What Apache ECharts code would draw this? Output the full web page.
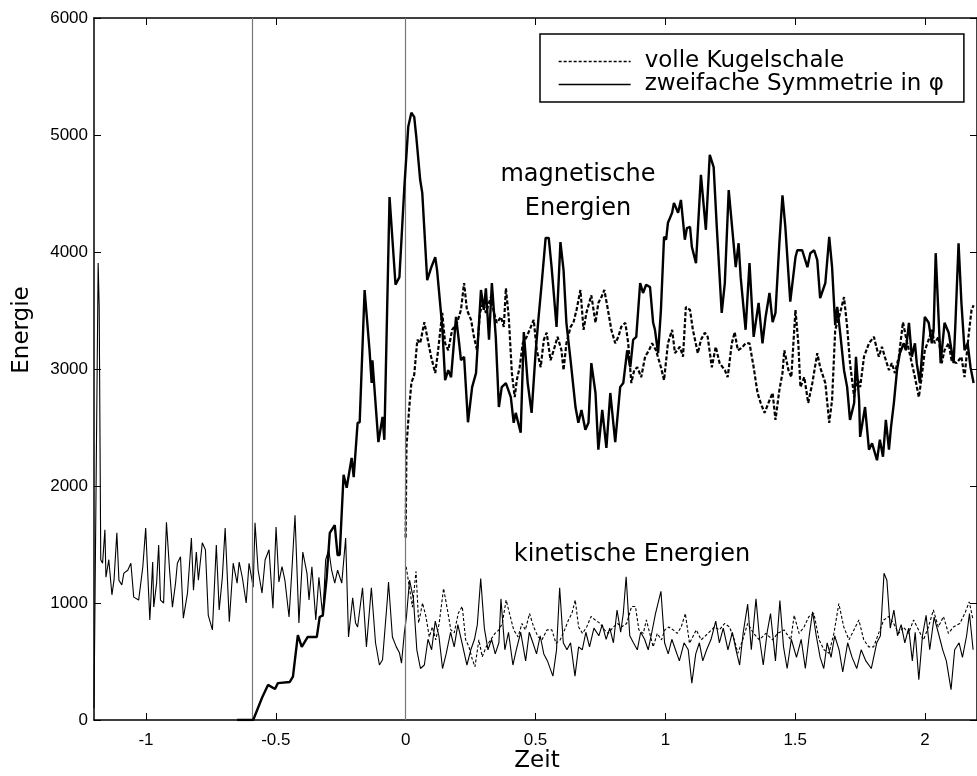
<!DOCTYPE html>
<html>
<head>
<meta charset="utf-8">
<title>Energie</title>
<script src="https://cdn.jsdelivr.net/npm/echarts@6/dist/echarts.min.js"></script>
<style>
  html, body { margin: 0; padding: 0; background: #fff; }
  #charts { width: 977px; height: 776px; }
</style>
</head>
<body>
<div id="charts"></div>
<script>
// Zeit-Achse: Ticks und Hilfslinien
var xTicks = [-1, -0.5, 0, 0.5, 1, 1.5, 2];
var vLines = [-0.587, 0];

// magnetische Energie, zweifache Symmetrie in phi  [Zeit, Energie]
var magZwei = [[-0.649,0],[-0.587,0],[-0.553,190],[-0.530,300],[-0.503,265],[-0.492,315],[-0.446,325],[-0.434,370],[-0.415,725],[-0.400,625],[-0.377,710],[-0.342,710],[-0.331,880],[-0.319,895],[-0.304,1220],[-0.292,1600],[-0.273,1665],[-0.262,1410],[-0.254,1410],[-0.239,2095],[-0.227,1985],[-0.208,2240],[-0.200,2075],[-0.185,2540],[-0.177,2545],[-0.158,3675],[-0.139,3160],[-0.131,2880],[-0.128,3075],[-0.105,2375],[-0.089,2590],[-0.082,2395],[-0.062,4470],[-0.039,3720],[-0.024,3785],[-0.005,4555],[0.010,5070],[0.022,5190],[0.033,5155],[0.041,4985],[0.056,4615],[0.064,4505],[0.083,3760],[0.098,3865],[0.114,3955],[0.121,3845],[0.141,3360],[0.152,2905],[0.164,2990],[0.175,2930],[0.194,3445],[0.206,3220],[0.213,3075],[0.225,3105],[0.240,2545],[0.256,2845],[0.271,2965],[0.290,3675],[0.301,3505],[0.309,3690],[0.321,3250],[0.332,3735],[0.347,3275],[0.359,2675],[0.370,2845],[0.386,2880],[0.405,2760],[0.416,2540],[0.424,2625],[0.443,2455],[0.455,3315],[0.470,2880],[0.485,2625],[0.501,3160],[0.512,3445],[0.524,3735],[0.539,4120],[0.551,4120],[0.562,3870],[0.581,3360],[0.596,4085],[0.608,3845],[0.619,3395],[0.635,3075],[0.654,2675],[0.665,2540],[0.677,2650],[0.692,2480],[0.704,2540],[0.715,3050],[0.731,2795],[0.742,2310],[0.757,2650],[0.773,2325],[0.788,2795],[0.807,2375],[0.826,2845],[0.838,2880],[0.853,3160],[0.865,3015],[0.876,3250],[0.888,3275],[0.903,3735],[0.914,3650],[0.926,3720],[0.941,3700],[0.953,3395],[0.960,3335],[0.972,3135],[0.983,3505],[0.995,4130],[1.003,4105],[1.010,4250],[1.026,4335],[1.033,4420],[1.049,4335],[1.060,4445],[1.075,4105],[1.083,4205],[1.095,4215],[1.102,4045],[1.118,3905],[1.137,4660],[1.156,4190],[1.171,4830],[1.186,4725],[1.198,4215],[1.217,3480],[1.229,3735],[1.244,4530],[1.252,4335],[1.271,3870],[1.282,4075],[1.290,3785],[1.309,3335],[1.324,3905],[1.340,3275],[1.359,3565],[1.374,3220],[1.386,3445],[1.401,3650],[1.413,3400],[1.424,3480],[1.439,4075],[1.451,4485],[1.462,4215],[1.481,3575],[1.501,3955],[1.508,4015],[1.527,4015],[1.547,3870],[1.558,3990],[1.573,4015],[1.585,3930],[1.596,3605],[1.616,3735],[1.631,4130],[1.642,3870],[1.654,3375],[1.662,3530],[1.673,3310],[1.688,2990],[1.700,2845],[1.711,2565],[1.727,2710],[1.734,3105],[1.746,2735],[1.750,2420],[1.769,2675],[1.784,2310],[1.796,2365],[1.815,2220],[1.826,2395],[1.838,2250],[1.849,2565],[1.861,2310],[1.869,2505],[1.880,2710],[1.892,2990],[1.903,3135],[1.918,3220],[1.926,3160],[1.938,3395],[1.949,3105],[1.961,3220],[1.968,3050],[1.980,2880],[1.999,3445],[2.014,3395],[2.026,3220],[2.033,3335],[2.041,3990],[2.052,3445],[2.060,3050],[2.075,3395],[2.091,3310],[2.110,3050],[2.117,3395],[2.129,4075],[2.140,3565],[2.152,3160],[2.164,3220],[2.175,3015],[2.187,2880]];

// magnetische Energie, volle Kugelschale
var magVoll = [[0.000,1560],[0.003,2335],[0.014,2675],[0.022,2880],[0.033,2950],[0.045,3250],[0.056,3220],[0.072,3400],[0.083,3275],[0.098,3105],[0.114,2965],[0.125,3160],[0.141,3480],[0.152,3220],[0.164,3160],[0.179,3335],[0.198,3395],[0.213,3505],[0.225,3735],[0.236,3505],[0.252,3420],[0.263,3275],[0.275,3160],[0.286,3480],[0.298,3565],[0.309,3480],[0.328,3615],[0.340,3480],[0.351,3395],[0.367,3445],[0.378,3360],[0.386,3690],[0.397,3445],[0.409,2965],[0.420,2760],[0.428,2905],[0.439,3015],[0.451,3220],[0.466,3275],[0.482,3360],[0.493,3420],[0.505,3160],[0.520,3015],[0.532,3250],[0.543,3310],[0.558,3075],[0.570,3160],[0.585,3275],[0.600,3160],[0.608,2990],[0.619,3220],[0.635,3360],[0.646,3395],[0.658,3505],[0.673,3675],[0.685,3335],[0.696,3480],[0.715,3630],[0.731,3395],[0.742,3565],[0.754,3615],[0.765,3675],[0.777,3530],[0.792,3335],[0.807,3220],[0.819,3275],[0.830,3360],[0.846,3395],[0.857,3220],[0.869,2880],[0.880,2990],[0.892,3015],[0.907,2930],[0.922,3105],[0.937,3160],[0.949,3220],[0.964,3160],[0.983,3015],[0.995,2905],[1.010,3220],[1.026,3335],[1.037,3135],[1.056,3190],[1.068,3105],[1.079,3530],[1.095,3505],[1.106,3335],[1.125,3135],[1.137,3250],[1.152,3310],[1.163,3275],[1.179,3015],[1.194,3190],[1.209,3050],[1.229,2990],[1.240,2930],[1.256,3220],[1.267,3315],[1.279,3160],[1.294,3180],[1.309,3220],[1.324,3220],[1.340,3015],[1.355,2795],[1.367,2710],[1.382,2625],[1.397,2710],[1.413,2795],[1.424,2565],[1.439,2820],[1.451,2965],[1.458,3160],[1.474,2990],[1.485,2930],[1.501,3505],[1.512,3220],[1.520,2845],[1.535,2930],[1.550,2710],[1.566,2880],[1.585,3135],[1.596,3015],[1.616,2880],[1.631,2540],[1.642,2735],[1.654,3335],[1.669,3445],[1.688,3615],[1.700,3360],[1.711,3050],[1.727,2760],[1.738,2930],[1.750,2845],[1.765,3105],[1.784,3220],[1.803,3275],[1.822,3105],[1.834,3190],[1.845,3105],[1.861,2990],[1.872,3050],[1.884,2965],[1.899,3105],[1.915,3400],[1.926,3275],[1.938,3160],[1.949,3050],[1.961,2930],[1.976,2760],[1.987,2930],[1.999,3160],[2.014,3250],[2.026,3335],[2.037,3220],[2.052,3275],[2.064,3050],[2.075,3160],[2.091,3220],[2.102,3075],[2.121,3050],[2.140,3105],[2.152,2930],[2.167,3275],[2.179,3505],[2.187,3545]];

// kinetische Energie, zweifache Symmetrie in phi
var kinZwei = [[-1.200,100],[-1.184,3905],[-1.180,3530],[-1.174,1370],[-1.167,1340],[-1.158,1625],[-1.154,1220],[-1.143,1370],[-1.131,1070],[-1.123,1195],[-1.112,1600],[-1.104,1195],[-1.093,1155],[-1.085,1255],[-1.070,1280],[-1.058,1340],[-1.047,1050],[-1.028,1025],[-1.012,1310],[-1.001,1640],[-0.985,855],[-0.974,1350],[-0.970,965],[-0.959,1170],[-0.951,1495],[-0.944,1025],[-0.932,1000],[-0.921,1690],[-0.909,1280],[-0.898,965],[-0.886,1170],[-0.879,1340],[-0.867,1395],[-0.856,870],[-0.840,1085],[-0.825,1555],[-0.817,1110],[-0.806,1435],[-0.798,1195],[-0.783,1515],[-0.771,1455],[-0.760,895],[-0.744,770],[-0.729,1495],[-0.718,940],[-0.706,1215],[-0.695,1640],[-0.679,840],[-0.664,1340],[-0.649,1170],[-0.641,1350],[-0.629,1220],[-0.614,1000],[-0.603,1340],[-0.587,1135],[-0.580,1685],[-0.568,1280],[-0.553,1085],[-0.541,1370],[-0.526,1455],[-0.511,955],[-0.499,1650],[-0.488,1180],[-0.476,1310],[-0.465,1195],[-0.449,880],[-0.438,1280],[-0.426,1750],[-0.411,830],[-0.396,1435],[-0.380,1255],[-0.372,1025],[-0.361,1310],[-0.346,855],[-0.334,1220],[-0.319,880],[-0.308,1370],[-0.296,1455],[-0.285,1280],[-0.273,1170],[-0.262,1280],[-0.246,1170],[-0.231,1555],[-0.220,710],[-0.204,1045],[-0.193,830],[-0.185,795],[-0.166,1130],[-0.151,625],[-0.132,1130],[-0.116,660],[-0.101,470],[-0.089,515],[-0.070,1045],[-0.066,1180],[-0.051,710],[-0.036,625],[-0.024,575],[-0.016,485],[-0.005,745],[0.003,880],[0.015,1195],[0.030,1035],[0.043,600],[0.057,440],[0.072,470],[0.086,690],[0.100,600],[0.114,845],[0.128,720],[0.142,440],[0.156,565],[0.173,750],[0.187,625],[0.201,815],[0.217,660],[0.236,470],[0.251,600],[0.265,690],[0.276,815],[0.289,1210],[0.303,785],[0.317,600],[0.331,690],[0.345,565],[0.359,660],[0.367,1035],[0.382,600],[0.396,750],[0.413,470],[0.426,600],[0.443,750],[0.462,505],[0.476,750],[0.490,660],[0.504,565],[0.518,720],[0.532,565],[0.546,505],[0.567,375],[0.581,600],[0.593,1130],[0.607,660],[0.621,600],[0.635,660],[0.652,375],[0.666,625],[0.680,600],[0.694,750],[0.708,625],[0.725,785],[0.744,720],[0.757,815],[0.772,690],[0.786,785],[0.800,660],[0.814,940],[0.828,750],[0.838,910],[0.849,1225],[0.863,720],[0.877,660],[0.892,600],[0.905,750],[0.920,690],[0.934,600],[0.948,750],[0.962,910],[0.983,1100],[0.997,660],[1.011,565],[1.025,690],[1.039,600],[1.054,505],[1.072,660],[1.088,600],[1.102,315],[1.117,565],[1.131,660],[1.144,505],[1.159,600],[1.176,690],[1.194,845],[1.208,660],[1.223,785],[1.241,600],[1.258,750],[1.272,600],[1.286,470],[1.300,750],[1.317,990],[1.331,600],[1.349,1035],[1.363,690],[1.377,470],[1.392,750],[1.405,910],[1.424,505],[1.441,1020],[1.455,625],[1.469,440],[1.485,690],[1.505,535],[1.523,690],[1.539,440],[1.554,720],[1.567,925],[1.581,720],[1.596,535],[1.610,440],[1.623,660],[1.638,535],[1.652,720],[1.669,600],[1.683,410],[1.702,660],[1.719,535],[1.737,440],[1.754,600],[1.772,505],[1.793,440],[1.814,660],[1.828,720],[1.842,1255],[1.853,1195],[1.866,785],[1.880,940],[1.894,720],[1.908,815],[1.922,660],[1.937,785],[1.951,505],[1.962,750],[1.976,345],[1.990,720],[2.004,895],[2.018,600],[2.035,880],[2.054,720],[2.068,600],[2.082,505],[2.100,260],[2.114,600],[2.131,660],[2.144,535],[2.160,720],[2.171,910],[2.185,600]];

// kinetische Energie, volle Kugelschale
var kinVoll = [[0.002,1310],[0.014,1140],[0.026,965],[0.040,1270],[0.050,830],[0.065,1000],[0.078,885],[0.091,710],[0.103,795],[0.116,685],[0.129,825],[0.146,1125],[0.161,940],[0.174,770],[0.187,745],[0.203,915],[0.218,970],[0.231,685],[0.244,625],[0.257,515],[0.267,455],[0.282,685],[0.295,540],[0.310,625],[0.327,685],[0.344,740],[0.359,770],[0.372,825],[0.387,1025],[0.400,910],[0.416,770],[0.433,710],[0.448,825],[0.461,770],[0.477,910],[0.493,795],[0.510,710],[0.525,685],[0.544,770],[0.563,770],[0.579,655],[0.595,685],[0.612,770],[0.627,855],[0.640,910],[0.653,1025],[0.666,795],[0.681,740],[0.697,795],[0.714,885],[0.730,855],[0.749,825],[0.765,770],[0.780,740],[0.800,795],[0.816,825],[0.831,795],[0.851,825],[0.870,970],[0.885,970],[0.898,770],[0.915,740],[0.927,855],[0.940,740],[0.953,625],[0.969,740],[0.985,685],[0.998,770],[1.013,795],[1.030,770],[1.046,740],[1.061,795],[1.077,910],[1.093,655],[1.119,770],[1.138,685],[1.164,740],[1.189,795],[1.208,770],[1.228,825],[1.247,795],[1.266,685],[1.279,570],[1.298,685],[1.317,825],[1.340,740],[1.362,685],[1.387,740],[1.413,685],[1.432,740],[1.457,770],[1.483,685],[1.496,895],[1.515,740],[1.534,795],[1.553,885],[1.572,910],[1.592,685],[1.611,600],[1.630,570],[1.649,740],[1.668,995],[1.687,795],[1.707,685],[1.726,770],[1.745,855],[1.764,685],[1.783,625],[1.802,625],[1.821,740],[1.841,855],[1.860,885],[1.879,825],[1.898,740],[1.917,795],[1.936,740],[1.956,855],[1.975,770],[1.994,685],[2.013,795],[2.032,940],[2.051,795],[2.071,885],[2.090,740],[2.109,795],[2.134,825],[2.153,910],[2.170,1010],[2.185,855]];

var nameVoll = 'volle Kugelschale';
var nameZwei = 'zweifache Symmetrie in φ';

var charts = echarts.init(document.getElementById('charts'), null, {renderer: 'canvas'});

var labelFont = {fontFamily: 'Liberation Sans', fontSize: 17, color: '#000'};
var frameLine = {show: true, onZero: false, lineStyle: {color: '#000', width: 1.5}};
var tickIn = {show: true, inside: true, length: 7, lineStyle: {color: '#000', width: 1}};

//刻度文字不要千位分隔符
function plainLabel(v) {
    return String(v);
}

var option = {
    animation: false,
    backgroundColor: '#fff',
    color: ['#000', '#000', '#000', '#000'],
    grid: {left: 94, right: -4, top: 18, bottom: 56, containLabel: false},
    legend: {
        orient: 'vertical',
        left: 540,
        top: 34,
        padding: [16, 20, 6, 18],
        itemGap: 0,
        itemWidth: 72,
        itemHeight: 23,
        backgroundColor: '#fff',
        borderColor: '#000',
        borderWidth: 1.5,
        borderRadius: 0,
        selectedMode: false,
        data: [nameVoll, nameZwei],
        itemStyle: {opacity: 0},
        lineStyle: {width: 1.3, color: '#000'},
        textStyle: {fontFamily: 'DejaVu Sans', fontSize: 23, color: '#000', padding: [0, 0, 0, 9]}
    },
    xAxis: [
        {
            type: 'value', min: -1.2, max: 2.2, position: 'bottom',
            axisLine: frameLine,
            axisTick: Object.assign({customValues: xTicks}, tickIn),
            axisLabel: Object.assign({customValues: xTicks, margin: 12, formatter: plainLabel}, labelFont),
            splitLine: {show: false}
        },
        {
            type: 'value', min: -1.2, max: 2.2, position: 'top',
            axisLine: frameLine,
            axisTick: Object.assign({customValues: xTicks}, tickIn),
            axisLabel: {show: false},
            splitLine: {show: false}
        }
    ],
    yAxis: [
        {
            type: 'value', min: 0, max: 6000, interval: 1000, position: 'left',
            axisLine: frameLine,
            axisTick: tickIn,
            axisLabel: Object.assign({margin: 6, formatter: plainLabel}, labelFont),
            splitLine: {show: false}
        },
        {
            type: 'value', min: 0, max: 6000, interval: 1000, position: 'right',
            axisLine: frameLine,
            axisTick: tickIn,
            axisLabel: {show: false},
            splitLine: {show: false}
        }
    ],
    graphic: [
        {type: 'text', x: 578, y: 175, style: {text: 'magnetische', fontFamily: 'DejaVu Sans', fontSize: 24, fill: '#000', textAlign: 'center', textVerticalAlign: 'middle'}},
        {type: 'text', x: 578, y: 209, style: {text: 'Energien', fontFamily: 'DejaVu Sans', fontSize: 24, fill: '#000', textAlign: 'center', textVerticalAlign: 'middle'}},
        {type: 'text', x: 632, y: 555, style: {text: 'kinetische Energien', fontFamily: 'DejaVu Sans', fontSize: 24, fill: '#000', textAlign: 'center', textVerticalAlign: 'middle'}},
        {type: 'text', x: 537, y: 761, style: {text: 'Zeit', fontFamily: 'DejaVu Sans', fontSize: 23, fill: '#000', textAlign: 'center', textVerticalAlign: 'middle'}},
        {type: 'text', x: 22, y: 330, rotation: Math.PI / 2, style: {text: 'Energie', fontFamily: 'DejaVu Sans', fontSize: 23, fill: '#000', textAlign: 'center', textVerticalAlign: 'middle'}}
    ],
    series: [
        {
            name: nameZwei, type: 'line', data: kinZwei, symbol: 'none', z: 2,
            itemStyle: {color: '#000'},
            lineStyle: {color: '#000', width: 1.1},
            markLine: {
                silent: true, symbol: 'none', animation: false,
                label: {show: false},
                lineStyle: {color: '#777', width: 1.2, type: 'solid'},
                data: vLines.map(function (v) { return {xAxis: v}; })
            }
        },
        {
            name: nameVoll, type: 'line', data: kinVoll, symbol: 'none', z: 3,
            itemStyle: {color: '#000'},
            lineStyle: {color: '#000', width: 1.1, type: [3, 2]}
        },
        {
            name: nameVoll, type: 'line', data: magVoll, symbol: 'none', z: 4,
            itemStyle: {color: '#000'},
            lineStyle: {color: '#000', width: 2.2, type: [4, 2]}
        },
        {
            name: nameZwei, type: 'line', data: magZwei, symbol: 'none', z: 5,
            itemStyle: {color: '#000'},
            lineStyle: {color: '#000', width: 2.4}
        }
    ]
};
charts.setOption(option);
</script>
</body>
</html>
